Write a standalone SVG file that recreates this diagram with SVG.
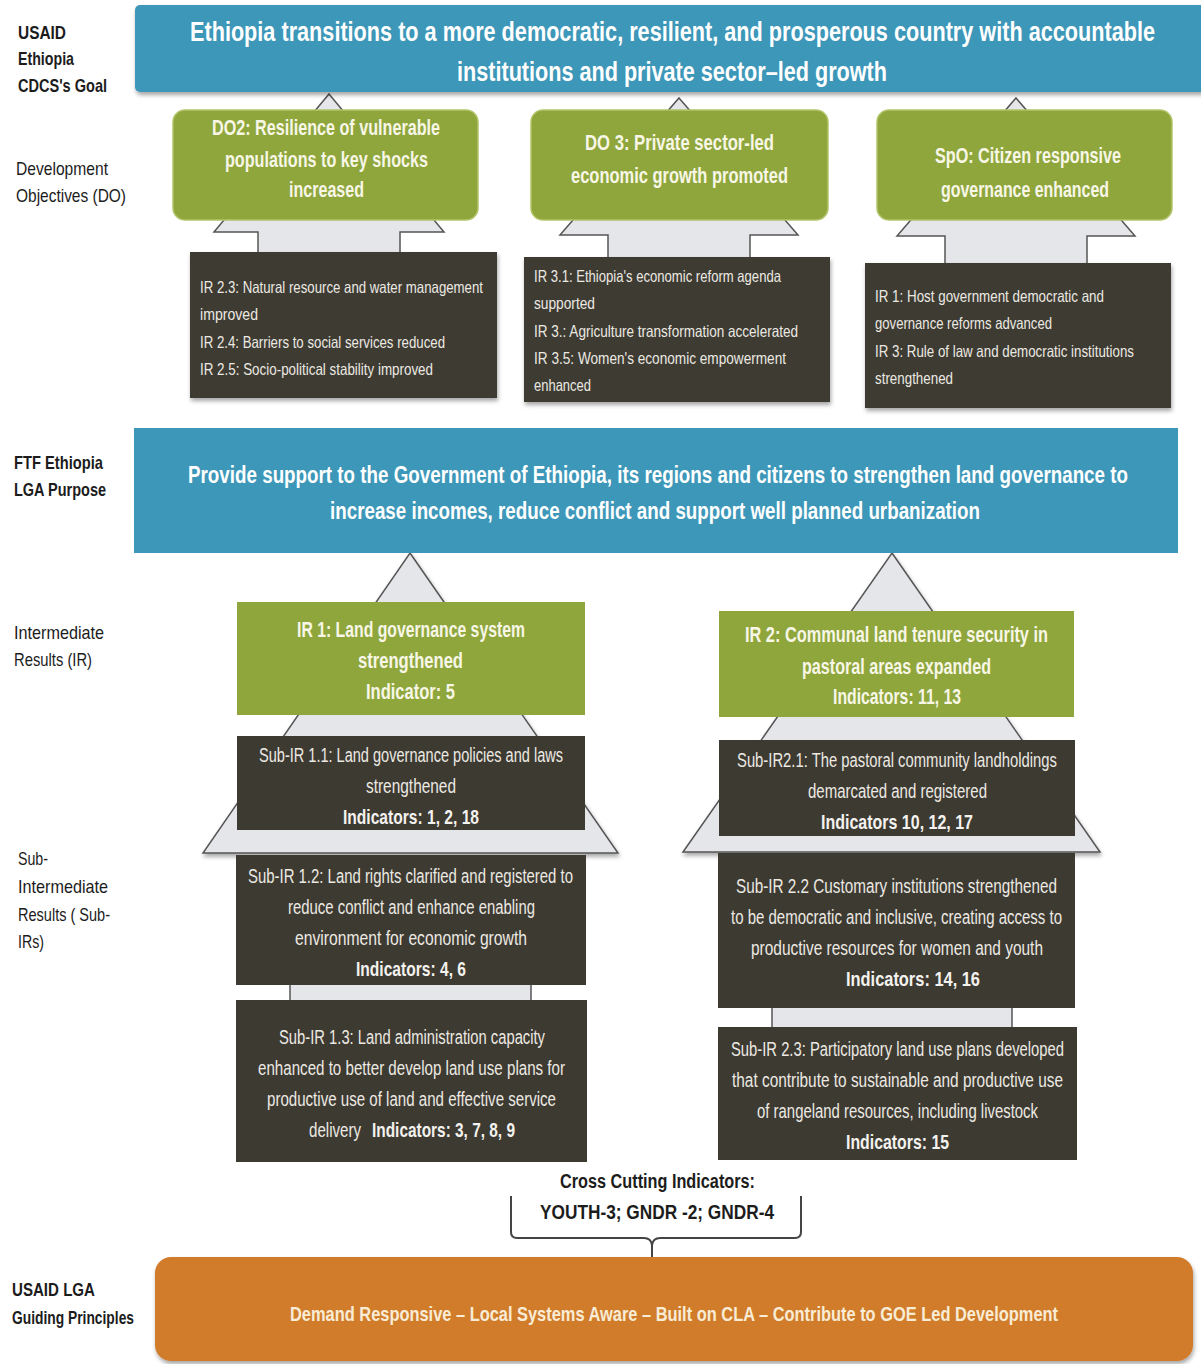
<svg xmlns="http://www.w3.org/2000/svg" width="1201" height="1364" viewBox="0 0 1201 1364">
<defs>
<filter id="sh" x="-5%" y="-10%" width="110%" height="130%">
<feDropShadow dx="1" dy="3" stdDeviation="2" flood-color="#000" flood-opacity="0.35"/>
</filter>
<style>
text{font-family:"Liberation Sans Narrow","Liberation Sans",Arial,sans-serif;}
.lbl{font-size:19px;fill:#1c1c1c;}
.lblb{font-size:19px;fill:#1c1c1c;font-weight:bold;}
.ttl{font-size:27px;fill:#ffffff;font-weight:bold;}
.ftf{font-size:24px;fill:#ffffff;font-weight:bold;}
.grn{font-size:22px;fill:#f8f6e6;font-weight:bold;}
.lst{font-size:16.5px;fill:#ece9e2;}
.sub{font-size:20px;fill:#ece9e2;}
.ind{font-size:21px;fill:#f4f2ee;font-weight:bold;}
.cc{font-size:20px;fill:#1c1c1c;font-weight:bold;}
.org{font-size:21px;fill:#f9ecd6;font-weight:bold;}
.banner{fill:#3d97b9;}
.do{fill:#8ea63c;stroke:#b3c46a;stroke-width:1.5;}
.ir{fill:#8ea63c;}
.dk{fill:#3d3a32;}
.arr{fill:#e4e6ea;stroke:#555;stroke-width:1.5;stroke-linejoin:miter;}
.brk{fill:none;stroke:#444;stroke-width:2;}
</style>
</defs>
<rect width="1201" height="1364" fill="#ffffff"/>

<g id="labels">
<text class="lblb" x="18" y="39" textLength="48" lengthAdjust="spacingAndGlyphs">USAID</text>
<text class="lblb" x="18" y="65" textLength="56" lengthAdjust="spacingAndGlyphs">Ethiopia</text>
<text class="lblb" x="18" y="92" textLength="89" lengthAdjust="spacingAndGlyphs">CDCS's Goal</text>
<text class="lbl" x="16" y="175" textLength="92" lengthAdjust="spacingAndGlyphs">Development</text>
<text class="lbl" x="16" y="202" textLength="110" lengthAdjust="spacingAndGlyphs">Objectives (DO)</text>
<text class="lblb" x="14" y="469" textLength="89" lengthAdjust="spacingAndGlyphs">FTF Ethiopia</text>
<text class="lblb" x="14" y="496" textLength="92" lengthAdjust="spacingAndGlyphs">LGA Purpose</text>
<text class="lbl" x="14" y="639" textLength="90" lengthAdjust="spacingAndGlyphs">Intermediate</text>
<text class="lbl" x="14" y="666" textLength="78" lengthAdjust="spacingAndGlyphs">Results (IR)</text>
<text class="lbl" x="18" y="865" textLength="30" lengthAdjust="spacingAndGlyphs">Sub-</text>
<text class="lbl" x="18" y="893" textLength="90" lengthAdjust="spacingAndGlyphs">Intermediate</text>
<text class="lbl" x="18" y="921" textLength="92" lengthAdjust="spacingAndGlyphs">Results ( Sub-</text>
<text class="lbl" x="18" y="948" textLength="26" lengthAdjust="spacingAndGlyphs">IRs)</text>
<text class="lblb" x="12" y="1296" textLength="83" lengthAdjust="spacingAndGlyphs">USAID LGA</text>
<text class="lblb" x="12" y="1324" textLength="122" lengthAdjust="spacingAndGlyphs">Guiding Principles</text>
</g>

<g id="connectors">
<polygon class="arr" points="329,94 444,232 400,232 400,256 258,256 258,232 214,232"/>
<polygon class="arr" points="679,98 798,235 750,235 750,260 608,260 608,235 560,235"/>
<polygon class="arr" points="1016,98 1135,236 1087,236 1087,266 945,266 945,236 897,236"/>
<polygon class="arr" points="410,553 618,853 203,853" filter="url(#sh)"/>
<polygon class="arr" points="892,553 1100,852 683,852" filter="url(#sh)"/>
<rect class="arr" x="290" y="983" width="241" height="19"/>
<rect class="arr" x="772" y="1006" width="240" height="23"/>
<path class="brk" d="M511,1196 L511,1232 Q511,1238 517,1238 L644,1238 Q651,1238 652,1245 L652,1257 M652,1245 Q653,1238 660,1238 L795,1238 Q801,1238 801,1232 L801,1196"/>
</g>

<g id="goal">
<rect class="banner" x="135" y="5" width="1072" height="87" rx="5" filter="url(#sh)"/>
<text class="ttl" x="190" y="41" textLength="965" lengthAdjust="spacingAndGlyphs">Ethiopia transitions to a more democratic, resilient, and prosperous country with accountable</text>
<text class="ttl" x="457" y="81" textLength="430" lengthAdjust="spacingAndGlyphs">institutions and private sector–led growth</text>
</g>

<g id="do2">
<rect class="do" x="173" y="110" width="305" height="110" rx="12"/>
<text class="grn" x="212" y="135" textLength="228" lengthAdjust="spacingAndGlyphs">DO2: Resilience of vulnerable</text>
<text class="grn" x="225" y="167" textLength="203" lengthAdjust="spacingAndGlyphs">populations  to key shocks</text>
<text class="grn" x="289" y="197" textLength="75" lengthAdjust="spacingAndGlyphs">increased</text>
</g>
<g id="do3">
<rect class="do" x="531" y="110" width="297" height="110" rx="12"/>
<text class="grn" x="585" y="150" textLength="189" lengthAdjust="spacingAndGlyphs">DO 3:  Private sector-led</text>
<text class="grn" x="571" y="183" textLength="217" lengthAdjust="spacingAndGlyphs">economic growth promoted</text>
</g>
<g id="spo">
<rect class="do" x="877" y="110" width="295" height="110" rx="12"/>
<text class="grn" x="935" y="163" textLength="186" lengthAdjust="spacingAndGlyphs">SpO: Citizen responsive</text>
<text class="grn" x="941" y="197" textLength="168" lengthAdjust="spacingAndGlyphs">governance enhanced</text>
</g>

<g id="do2-irs">
<rect class="dk" x="190" y="252" width="307" height="146" filter="url(#sh)"/>
<text class="lst" x="200" y="293" textLength="283" lengthAdjust="spacingAndGlyphs">IR 2.3: Natural resource and water management</text>
<text class="lst" x="200" y="320" textLength="58" lengthAdjust="spacingAndGlyphs">improved</text>
<text class="lst" x="200" y="348" textLength="245" lengthAdjust="spacingAndGlyphs">IR 2.4: Barriers to social services reduced</text>
<text class="lst" x="200" y="375" textLength="233" lengthAdjust="spacingAndGlyphs">IR 2.5: Socio-political stability improved</text>
</g>
<g id="do3-irs">
<rect class="dk" x="524" y="257" width="306" height="145" filter="url(#sh)"/>
<text class="lst" x="534" y="282" textLength="247" lengthAdjust="spacingAndGlyphs">IR 3.1: Ethiopia's economic reform agenda</text>
<text class="lst" x="534" y="309" textLength="61" lengthAdjust="spacingAndGlyphs">supported</text>
<text class="lst" x="534" y="337" textLength="264" lengthAdjust="spacingAndGlyphs">IR 3.: Agriculture transformation accelerated</text>
<text class="lst" x="534" y="364" textLength="252" lengthAdjust="spacingAndGlyphs">IR 3.5: Women's economic empowerment</text>
<text class="lst" x="534" y="391" textLength="57" lengthAdjust="spacingAndGlyphs">enhanced</text>
</g>
<g id="spo-irs">
<rect class="dk" x="865" y="263" width="306" height="145" filter="url(#sh)"/>
<text class="lst" x="875" y="302" textLength="229" lengthAdjust="spacingAndGlyphs">IR 1: Host government democratic and</text>
<text class="lst" x="875" y="329" textLength="177" lengthAdjust="spacingAndGlyphs">governance reforms advanced</text>
<text class="lst" x="875" y="357" textLength="259" lengthAdjust="spacingAndGlyphs">IR 3: Rule of law and democratic institutions</text>
<text class="lst" x="875" y="384" textLength="78" lengthAdjust="spacingAndGlyphs">strengthened</text>
</g>

<g id="purpose">
<rect class="banner" x="134" y="428" width="1044" height="125"/>
<text class="ftf" x="188" y="483" textLength="940" lengthAdjust="spacingAndGlyphs">Provide support to the Government of Ethiopia, its regions and citizens to strengthen land governance to</text>
<text class="ftf" x="330" y="519" textLength="650" lengthAdjust="spacingAndGlyphs">increase incomes, reduce conflict  and support well planned urbanization</text>
</g>

<g id="ir1">
<rect class="ir" x="237" y="602" width="348" height="113"/>
<text class="grn" x="297" y="637" textLength="228" lengthAdjust="spacingAndGlyphs">IR 1: Land governance system</text>
<text class="grn" x="358" y="668" textLength="105" lengthAdjust="spacingAndGlyphs">strengthened</text>
<text class="grn" x="366" y="699" textLength="89" lengthAdjust="spacingAndGlyphs">Indicator: 5</text>
</g>
<g id="ir2">
<rect class="ir" x="719" y="611" width="355" height="106"/>
<text class="grn" x="745" y="642" textLength="303" lengthAdjust="spacingAndGlyphs">IR 2: Communal land tenure security in</text>
<text class="grn" x="802" y="674" textLength="189" lengthAdjust="spacingAndGlyphs">pastoral areas expanded</text>
<text class="grn" x="833" y="704" textLength="128" lengthAdjust="spacingAndGlyphs">Indicators: 11, 13</text>
</g>

<g id="subir11">
<rect class="dk" x="237" y="736" width="348" height="94"/>
<text class="sub" x="259" y="762" textLength="304" lengthAdjust="spacingAndGlyphs">Sub-IR 1.1: Land governance policies and laws</text>
<text class="sub" x="366" y="793" textLength="90" lengthAdjust="spacingAndGlyphs">strengthened</text>
<text class="ind" x="343" y="824" textLength="136" lengthAdjust="spacingAndGlyphs">Indicators: 1, 2, 18</text>
</g>
<g id="subir21">
<rect class="dk" x="719" y="740" width="356" height="96"/>
<text class="sub" x="737" y="767" textLength="320" lengthAdjust="spacingAndGlyphs">Sub-IR2.1: The pastoral community landholdings</text>
<text class="sub" x="808" y="798" textLength="179" lengthAdjust="spacingAndGlyphs">demarcated and registered</text>
<text class="ind" x="821" y="829" textLength="152" lengthAdjust="spacingAndGlyphs">Indicators 10, 12, 17</text>
</g>

<g id="subir12">
<rect class="dk" x="236" y="855" width="350" height="130"/>
<text class="sub" x="248" y="883" textLength="325" lengthAdjust="spacingAndGlyphs">Sub-IR 1.2: Land rights clarified and registered to</text>
<text class="sub" x="288" y="914" textLength="247" lengthAdjust="spacingAndGlyphs">reduce conflict and enhance enabling</text>
<text class="sub" x="295" y="945" textLength="232" lengthAdjust="spacingAndGlyphs">environment for economic growth</text>
<text class="ind" x="356" y="976" textLength="110" lengthAdjust="spacingAndGlyphs">Indicators: 4, 6</text>
</g>
<g id="subir13">
<rect class="dk" x="236" y="1000" width="351" height="162"/>
<text class="sub" x="279" y="1044" textLength="266" lengthAdjust="spacingAndGlyphs">Sub-IR 1.3: Land administration capacity</text>
<text class="sub" x="258" y="1075" textLength="307" lengthAdjust="spacingAndGlyphs">enhanced to better develop land use plans for</text>
<text class="sub" x="267" y="1106" textLength="289" lengthAdjust="spacingAndGlyphs">productive use of land and effective service</text>
<text class="sub" x="309" y="1137" textLength="52" lengthAdjust="spacingAndGlyphs">delivery</text>
<text class="ind" x="372" y="1137" textLength="143" lengthAdjust="spacingAndGlyphs">Indicators: 3, 7, 8, 9</text>
</g>

<g id="subir22">
<rect class="dk" x="718" y="853" width="357" height="155"/>
<text class="sub" x="736" y="893" textLength="321" lengthAdjust="spacingAndGlyphs">Sub-IR 2.2 Customary institutions strengthened</text>
<text class="sub" x="731" y="924" textLength="331" lengthAdjust="spacingAndGlyphs">to be democratic and inclusive, creating access to</text>
<text class="sub" x="751" y="955" textLength="292" lengthAdjust="spacingAndGlyphs">productive resources for women and youth</text>
<text class="ind" x="846" y="986" textLength="134" lengthAdjust="spacingAndGlyphs">Indicators:  14, 16</text>
</g>
<g id="subir23">
<rect class="dk" x="718" y="1027" width="359" height="133"/>
<text class="sub" x="731" y="1056" textLength="333" lengthAdjust="spacingAndGlyphs">Sub-IR 2.3: Participatory land use plans developed</text>
<text class="sub" x="732" y="1087" textLength="331" lengthAdjust="spacingAndGlyphs">that contribute to sustainable and productive use</text>
<text class="sub" x="757" y="1118" textLength="281" lengthAdjust="spacingAndGlyphs">of rangeland resources, including livestock</text>
<text class="ind" x="846" y="1149" textLength="103" lengthAdjust="spacingAndGlyphs">Indicators: 15</text>
</g>

<g id="crosscutting">
<text class="cc" x="560" y="1188" textLength="195" lengthAdjust="spacingAndGlyphs">Cross Cutting Indicators:</text>
<text class="cc" x="540" y="1219" textLength="234" lengthAdjust="spacingAndGlyphs">YOUTH-3; GNDR -2; GNDR-4</text>
</g>

<g id="principles">
<rect x="155" y="1257" width="1038" height="104" rx="16" fill="#d07b2b" filter="url(#sh)"/>
<text class="org" x="290" y="1321" textLength="768" lengthAdjust="spacingAndGlyphs">Demand Responsive – Local Systems Aware – Built on CLA – Contribute to GOE Led Development</text>
</g>
</svg>
